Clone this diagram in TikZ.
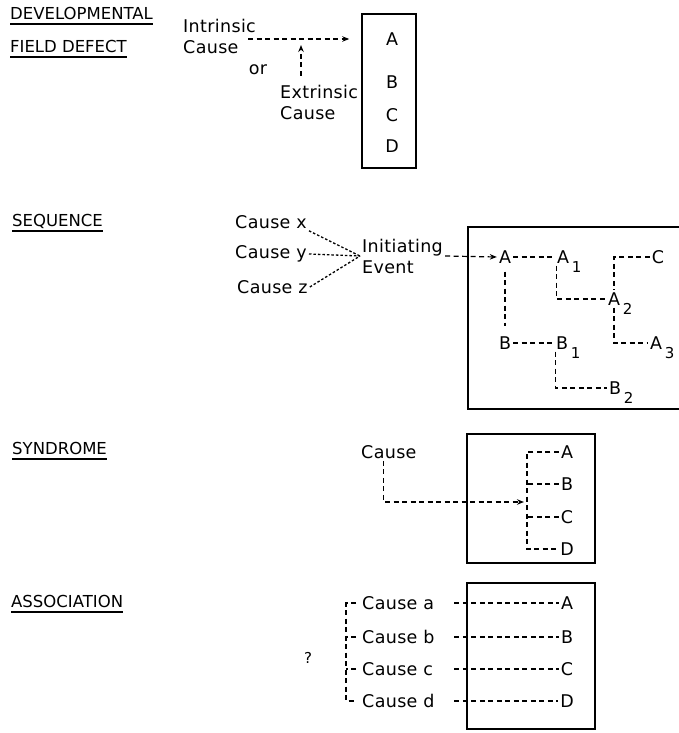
\documentclass[tikz,border=0pt]{standalone}
\usepackage{fontspec}
\setmainfont[LetterSpace=2]{DejaVu Sans}
\newfontfamily\headfont{DejaVu Sans}
\usetikzlibrary{arrows.meta}

\newcommand{\lowsub}[1]{\rlap{\smash{\,\raisebox{-9pt}{\fontsize{15}{15}\selectfont #1}}}}

\begin{document}
\begin{tikzpicture}[
    x=1pt, y=-1pt,
    font=\fontsize{17.5}{21}\selectfont,
    head/.style={anchor=south west, inner sep=0pt, text depth=0pt, font=\headfont\fontsize{16.5}{18}\selectfont},
    uline/.style={line width=1.5pt},
    lbl/.style={inner sep=2pt},
    frame/.style={draw, line width=1.5pt},
    dline/.style={dash pattern=on 5pt off 3.5pt, line width=1.2pt},
    dotl/.style={dash pattern=on 2.5pt off 2pt, line width=1.3pt},
    arrow/.style={-{Stealth[length=7pt,width=5.5pt]}}
]
\useasboundingbox (0,0) rectangle (678,733);

% headings
\node[head] (hDev) at (10,20) {DEVELOPMENTAL};
\node[head] (hField) at (10,53) {FIELD DEFECT};
\node[head] (hSeq) at (12,227) {SEQUENCE};
\node[head] (hSyn) at (12,455) {SYNDROME};
\node[head] (hAss) at (11,608) {ASSOCIATION};
\foreach \h in {hDev,hField,hSeq,hSyn,hAss}
  \draw[uline] ([yshift=-4pt]\h.south west) -- ([yshift=-4pt]\h.south east);

% developmental field defect
\node[lbl, align=left, anchor=west] (intr) at (181,36) {Intrinsic\\Cause};
\node[lbl] (orw) at (258,70) {or};
\node[lbl, align=left, anchor=west] (extr) at (278,102) {Extrinsic\\Cause};
\node[frame, minimum width=54pt, minimum height=154pt] (box1) at (389,91) {};
\node[lbl] (dA) at (392,39) {A};
\node[lbl] (dB) at (392,82) {B};
\node[lbl] (dC) at (392,115) {C};
\node[lbl] (dD) at (392,146) {D};
\coordinate (dJoin) at (301,39);
\draw[dline, arrow] ([xshift=-10pt]intr.east |- dA) -- ([xshift=-12pt]box1.west |- dA);
\draw[dline, arrow, shorten <=7pt] (dJoin |- extr.north) -- ([yshift=-6pt]dJoin);

% sequence
\node[lbl, anchor=west] (cx) at (233,222) {Cause x};
\node[lbl, anchor=west] (cy) at (233,254) {Cause y};
\node[lbl, anchor=west] (cz) at (235,287) {Cause z};
\node[lbl, align=left, anchor=west] (ev) at (360,256) {Initiating\\Event};
\draw[dotl] (cx.south east) -- (ev.west);
\draw[dotl] (cy.east) -- (ev.west);
\draw[dotl] (cz.east) -- (ev.west);
\draw[frame] (680,227) -- (468,227) -- (468,409) -- (680,409);
\node[lbl] (sA) at (505,257) {A};
\node[lbl] (sA1) at (563,257) {A\lowsub{1}};
\node[lbl] (sC) at (658,257) {C};
\node[lbl] (sA2) at (614,299) {A\lowsub{2}};
\node[lbl] (sA3) at (656,343) {A\lowsub{3}};
\node[lbl] (sB) at (505,343) {B};
\node[lbl] (sB1) at (562,343) {B\lowsub{1}};
\node[lbl] (sB2) at (615,388) {B\lowsub{2}};
\draw[dline, arrow] (ev.east) -- (sA.west);
\draw[dline] (sA) -- (sA1);
\draw[dline, shorten <=6pt, shorten >=8pt] (sA.south) -- (sB.north);
\draw[dline] (sB) -- (sB1);
\draw[dline] ([xshift=2pt]sA1.south west) |- (sA2.west);
\draw[dline] ([xshift=2pt]sB1.south west) |- (sB2.west);
\draw[dline] (sC.west) -| (sA2.north);
\draw[dline] (sA2.south) |- (sA3.west);

% syndrome
\node[lbl, anchor=west] (synCause) at (359,452) {Cause};
\node[frame, minimum width=128pt, minimum height=129pt] (box3) at (531,498.5) {};
\node[lbl] (yA) at (567,452) {A};
\node[lbl] (yB) at (567,484) {B};
\node[lbl] (yC) at (567,517) {C};
\node[lbl] (yD) at (567,549) {D};
\coordinate (ySpine) at (527,0);
\coordinate (yHit) at (527,502);
\draw[dline] (yA.west) -| (ySpine |- yD) -- (yD.west);
\draw[dline] (yB.west) -- (ySpine |- yB);
\draw[dline] (yC.west) -- (ySpine |- yC);
\draw[dline, arrow] ([xshift=-5pt]synCause.south) |- ([xshift=-3pt]yHit);

% association
\node[lbl, font=\fontsize{15}{15}\selectfont] (aQ) at (308,658) {?};
\node[lbl, anchor=west] (ca) at (360,603) {Cause a};
\node[lbl, anchor=west] (cb) at (360,637) {Cause b};
\node[lbl, anchor=west] (cc) at (360,669) {Cause c};
\node[lbl, anchor=west] (cd) at (360,701) {Cause d};
\node[frame, minimum width=128pt, minimum height=146pt] (box4) at (531,656) {};
\node[lbl] (aA) at (567,603) {A};
\node[lbl] (aB) at (567,637) {B};
\node[lbl] (aC) at (567,669) {C};
\node[lbl] (aD) at (567,701) {D};
\coordinate (aSpine) at (346,0);
\draw[dline] ([xshift=-4pt]ca.west) -| (aSpine |- cd) -- ([xshift=-4pt]cd.west);
\draw[dline] ([xshift=-4pt]cb.west) -- (aSpine |- cb);
\draw[dline] ([xshift=-4pt]cc.west) -- (aSpine |- cc);
\foreach \l in {aA, aB, aC, aD}
  \draw[dline] ([xshift=-12pt]box4.west |- \l.west) -- (\l.west);
\end{tikzpicture}
\end{document}
